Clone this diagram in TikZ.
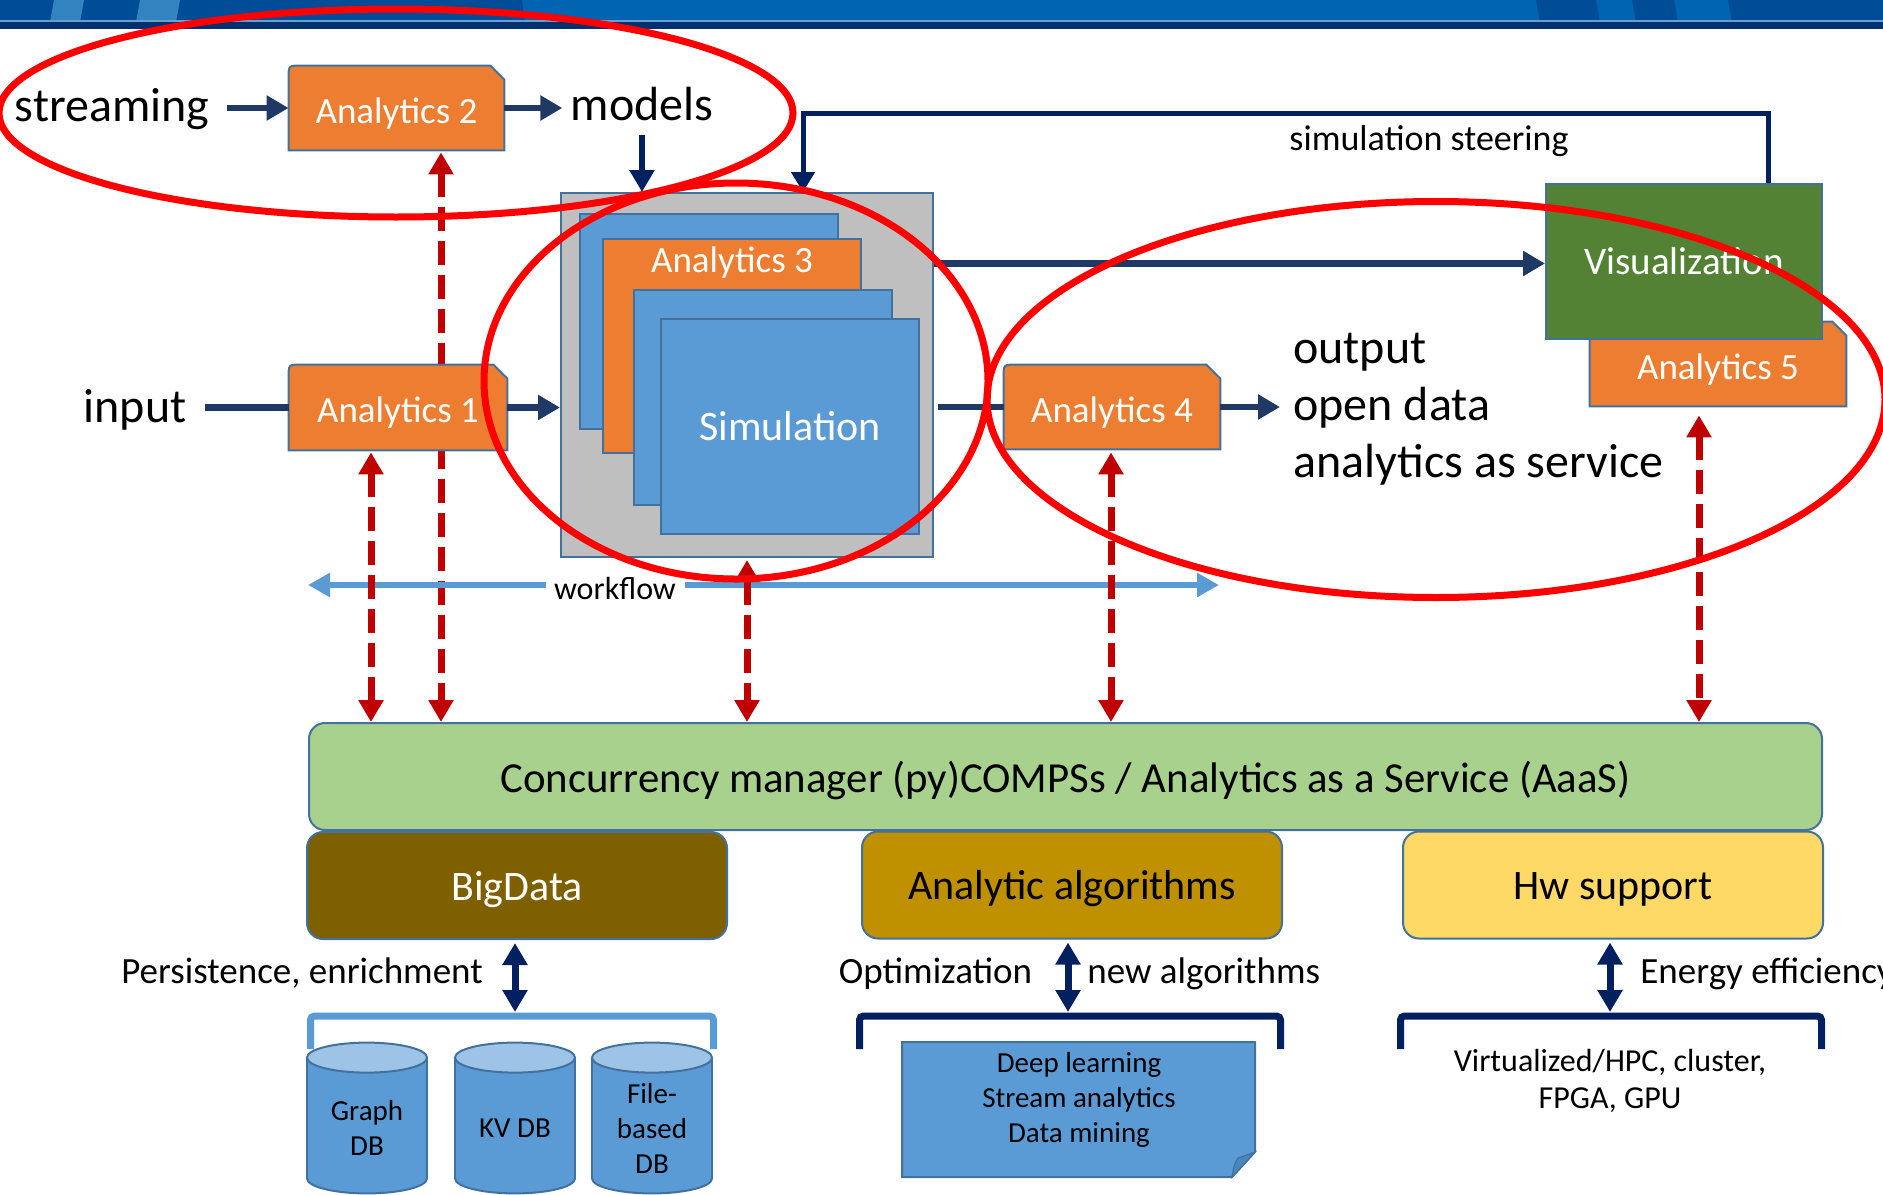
\documentclass[tikz,border=0pt]{standalone}
\usepackage{fontspec}
\setmainfont{Carlito}
\usetikzlibrary{arrows.meta,shapes.geometric,calc}
\definecolor{orA}{HTML}{ED7D31}
\definecolor{bdr}{HTML}{41719C}
\definecolor{simB}{HTML}{5B9BD5}
\definecolor{grayB}{HTML}{BFBFBF}
\definecolor{visG}{HTML}{548235}
\definecolor{concG}{HTML}{A9D18E}
\definecolor{bigD}{HTML}{7F6000}
\definecolor{algY}{HTML}{BF9000}
\definecolor{hwY}{HTML}{FFD966}
\definecolor{navyA}{HTML}{1F3864}
\definecolor{navyB}{HTML}{002060}
\definecolor{redE}{HTML}{FF0000}
\definecolor{redD}{HTML}{C00000}
\definecolor{cylTop}{HTML}{9DC3E6}
\definecolor{bandA}{HTML}{0064B2}
\definecolor{bandB}{HTML}{004C97}
\definecolor{bandC}{HTML}{00306E}
\definecolor{foldB}{HTML}{4A86BF}
\newcommand\fsz[2]{\fontsize{#1}{#2}\selectfont}
\pgfdeclarelayer{back}\pgfdeclarelayer{shapes}\pgfdeclarelayer{front}
\pgfsetlayers{back,shapes,main,front}
\newcommand\snipshape[1]{%
\begin{pgfonlayer}{shapes}
\filldraw[fill=orA, draw=bdr, line width=1pt]
 (#1.south west) -- ([yshift=-6pt]#1.north west) .. controls (#1.north west) .. ([xshift=6pt]#1.north west)
 -- ([xshift=-7pt]#1.north east) -- ([yshift=-7pt]#1.north east) -- (#1.south east) -- cycle;
\end{pgfonlayer}}
\newcommand\cylshape[1]{%
 \fill[simB] ([yshift=-7.5pt]#1.north west) rectangle ([yshift=7.5pt]#1.south east);
 \filldraw[fill=simB, draw=bdr, line width=1pt] ([yshift=7.5pt]#1.south) ellipse [x radius=30pt, y radius=7.5pt];
 \fill[simB] ([yshift=-7.5pt]#1.north west) rectangle ([yshift=7.5pt]#1.south east);
 \draw[bdr, line width=1pt] ([yshift=-7.5pt]#1.north west) -- ([yshift=7.5pt]#1.south west)
   ([yshift=-7.5pt]#1.north east) -- ([yshift=7.5pt]#1.south east);
 \filldraw[fill=cylTop, draw=bdr, line width=1pt] ([yshift=-7.5pt]#1.north) ellipse [x radius=30pt, y radius=7.5pt];}
\tikzset{
 txt/.style={inner sep=0pt, font=\fsz{24}{28}},
 txtm/.style={inner sep=0pt, font=\fsz{18.5}{22}},
 anode/.style={inner sep=0pt, minimum height=42pt, text=white, font=\fsz{18.5}{22}, text height=15pt, text depth=0pt},
 rect/.style={draw=bdr, line width=1pt, inner sep=0pt},
 layer/.style={draw=bdr, line width=1pt, rounded corners=8pt, inner sep=0pt, minimum width=210pt, minimum height=53.5pt, font=\fsz{21}{25}, text height=14.5pt, text depth=0pt},
 navyarr/.style={draw=navyA, line width=3.2pt, -{Triangle[length=11pt,width=12pt]}},
 navyline/.style={draw=navyA, line width=3.2pt},
 steer/.style={draw=navyB, line width=2.5pt, -{Triangle[length=10pt,width=11.5pt]}},
 downarr/.style={draw=navyB, line width=3.2pt, -{Triangle[length=11pt,width=12pt]}},
 wfline/.style={draw=simB, line width=3pt, -{Triangle[length=11pt,width=11.5pt]}},
 redd/.style={draw=redD, line width=3.5pt, dash pattern=on 12pt off 5pt, arrows={Triangle[length=11pt,width=12pt]-Triangle[length=11pt,width=12pt]}},
 dblarr/.style={draw=navyB, line width=3.5pt, arrows={Triangle[length=11pt,width=12pt]-Triangle[length=11pt,width=12pt]}},
 brk/.style={line width=3.5pt, rounded corners=2pt},
 ell/.style={draw=redE, line width=3.5pt},
 cylbox/.style={minimum width=60pt, minimum height=75pt, inner sep=0pt},
 dbtxt/.style={inner sep=0pt, align=center, font=\fsz{14.5}{17.5}}
}
\begin{document}
\begin{tikzpicture}[x=0.5pt, y=-0.5pt]
\useasboundingbox (0,0) rectangle (1883,1194);
% top band
\fill[bandA] (0,0) rectangle (1883,29);
\fill[bandB] (0,0) -- (522,0) -- (525,22) -- (0,22) -- cycle;
\fill[bandA!80!white] (54,0) -- (84,0) -- (80,22) -- (50,22) -- cycle;
\fill[bandA!80!white] (140,0) -- (180,0) -- (176,22) -- (136,22) -- cycle;
\fill[bandB] (1536,0) -- (1596,0) -- (1600,22) -- (1540,22) -- cycle;
\fill[bandB] (1632,0) -- (1674,0) -- (1678,22) -- (1636,22) -- cycle;
\fill[bandB] (1728,0) -- (1883,0) -- (1883,22) -- (1732,22) -- cycle;
\fill[bandC] (0,21) rectangle (1883,29);
\fill[bandA!60!white] (0,20) rectangle (1883,21.5);

% top row
\node[txt, anchor=base] (stream) at (112,121) {streaming};
\node[anode, minimum width=107.5pt] (a2) at (396.5,108) {Analytics 2}; \snipshape{a2}
\node[txt, anchor=base] (models) at (642,120) {models};
\draw[navyarr, shorten <=8.5pt] (stream.east |- a2.west) -- (a2.west);
\draw[navyarr, shorten >=4pt] (a2.east) -- (models.west |- a2.east);

% simulation stack
\node[rect, fill=grayB, minimum width=186pt, minimum height=182pt] (gray) at (747,375) {};
\node[rect, fill=simB, minimum width=129pt, minimum height=107.5pt] (b1) at (709,321.5) {};
\node[rect, fill=orA, minimum width=129pt, minimum height=107pt] (a3) at (732,346) {};
\node[inner sep=0pt, text=white, font=\fsz{18.5}{22}] (a3t) at (732,263) {Analytics 3};
\node[rect, fill=simB, minimum width=129pt, minimum height=107.5pt] (b3) at (763,397.5) {};
\node[rect, fill=simB, minimum width=129pt, minimum height=107.5pt, text=white, font=\fsz{21}{25}] (sim) at (790,426.5) {Simulation};
\draw[downarr, shorten <=7pt] (models.south) -- (models.south |- gray.north);

% visualization & analytics 5
\node[rect, fill=visG, minimum width=138pt, minimum height=77.5pt, text=white, font=\fsz{19.5}{23}] (vis) at (1684,261.5) {Visualization};
\node[anode, minimum width=128pt, text height=15.5pt] (a5) at (1718,364) {Analytics 5}; \snipshape{a5}
\coordinate (stR) at (1768,113);
\coordinate (stL) at (803,113);
\draw[steer] (vis.north -| stR) -- (stR) -- (stL) -- (stL |- gray.north);
\node[inner sep=0pt, anchor=base, font=\fsz{18}{22}] (steerlbl) at (1429,150) {simulation steering};
\draw[navyarr] ([yshift=-1pt]gray.east |- vis.west) -- ([yshift=-1pt]vis.west);

% middle row
\node[txt, anchor=base] (input) at (135,422) {input};
\node[anode, minimum width=109pt, minimum height=42.5pt] (a1) at (398,407.5) {Analytics 1}; \snipshape{a1}
\draw[navyline, shorten <=9pt] (input.east |- a1.west) -- (a1.west);
\draw[navyarr] (a1.east) -- (gray.west |- a1.east);
\node[anode, minimum width=108pt] (a4) at (1112,407) {Analytics 4}; \snipshape{a4}
\draw[navyline] ([xshift=2pt]gray.east |- a4.west) -- (a4.west);
\node[txt, anchor=base west] (out1) at (1293,363) {output};
\node[txt, anchor=base west] (out2) at (1293,420) {open data};
\node[txt, anchor=base west] (out3) at (1293,477) {analytics as service};
\draw[navyarr, shorten >=6.5pt] (a4.east) -- (out2.west |- a4.east);

% workflow
\node[inner sep=0pt, font=\fsz{16}{19}] (wf) at (615,588) {workflow};
\coordinate (wfL) at (308,585);
\coordinate (wfR) at (1219,585);
\draw[wfline, shorten <=4pt] (wf.west |- wfL) -- (wfL);
\draw[wfline, shorten <=4.5pt] (wf.east |- wfR) -- (wfR);

% layers
\node[layer, fill=concG, minimum width=756.5pt, font=\fsz{21.4}{25}, text height=16pt] (conc) at (1065.5,776.5) {Concurrency manager (py)COMPSs / Analytics as a Service (AaaS)};
\node[layer, fill=bigD, text=white] (bd) at (517,885.5) {BigData};
\node[layer, fill=algY] (aa) at (1072,885) {Analytic algorithms};
\node[layer, fill=hwY] (hw) at (1613,885) {Hw support};

% red dashed connectors
\coordinate (xa) at (371,0);
\coordinate (xb) at (441,0);
\coordinate (xd) at (1111,0);
\coordinate (xe) at (1699,0);
\draw[redd, shorten <=1pt] (a1.south -| xa) -- (conc.north -| xa);
\begin{pgfonlayer}{back}
\draw[redd, shorten <=1pt] (a2.south -| xb) -- (conc.north -| xb);
\end{pgfonlayer}
\draw[redd, shorten <=1pt] (gray.south) -- (conc.north -| gray.south);
\draw[redd, shorten <=1.5pt] (a4.south -| xd) -- (conc.north -| xd);
\draw[redd, shorten <=4.5pt] (a5.south -| xe) -- (conc.north -| xe);

% BigData part
\node[txtm, anchor=base] (pers) at (302,983) {Persistence, enrichment};
\coordinate (bdTop) at (515,1012);
\draw[brk, draw=simB] (310.5,1049) -- (310.5,1016) -- (713.5,1016) -- (713.5,1049);
\draw[dblarr, shorten <=1.5pt] (bd.south -| bdTop) -- (bdTop);
\node[cylbox] (gdb) at (367,1118) {}; \cylshape{gdb}
\node[cylbox] (kv) at (515,1118) {}; \cylshape{kv}
\node[cylbox] (fb) at (652,1118) {}; \cylshape{fb}
\node[dbtxt] (gdbt) at ([yshift=-5pt]gdb.center) {Graph\\DB};
\node[dbtxt] (kvt) at ([yshift=-5pt]kv.center) {KV DB};
\node[dbtxt] (fbt) at ([yshift=-5pt]fb.center) {File-\\based\\DB};

% Algorithms part
\node[txtm, anchor=base] (opt) at (935.5,983) {Optimization};
\node[txtm, anchor=base west] (newalg) at (1087,983) {new algorithms};
\coordinate (aaTop) at (1068,1012);
\draw[brk, draw=navyB] (859.5,1049) -- (859.5,1016) -- (1280.5,1016) -- (1280.5,1049);
\draw[dblarr, shorten <=1.5pt] (aa.south -| aaTop) -- (aaTop);
\filldraw[fill=simB, draw=bdr, line width=1pt] (902,1042) -- (1255,1042) -- (1255,1152) -- (1232,1177) -- (902,1177) -- cycle;
\filldraw[fill=foldB, draw=bdr, line width=0.6pt] (1255,1152) -- (1232,1177) .. controls (1234,1165) .. (1238,1158) -- cycle;
\node[inner sep=0pt, align=center, font=\fsz{14.5}{17.5}] (dl) at (1079,1100) {Deep learning\\Stream analytics\\Data mining};

% Hw part
\node[txtm, anchor=base west] (energy) at (1640,983) {Energy efficiency};
\coordinate (hwTop) at (1610,1012);
\draw[brk, draw=navyB] (1400.5,1049) -- (1400.5,1016) -- (1821.5,1016) -- (1821.5,1049);
\draw[dblarr, shorten <=1.5pt] (hw.south -| hwTop) -- (hwTop);
\node[inner sep=0pt, align=center, font=\fsz{16}{18.5}] (hwt) at (1610,1081) {Virtualized/HPC, cluster,\\FPGA, GPU};

% red ellipses
\begin{pgfonlayer}{front}
\draw[ell] (396,113) ellipse [x radius=397, y radius=104];
\draw[ell] (736,381) ellipse [x radius=252, y radius=198];
\draw[ell] (1436,399.5) ellipse [x radius=449, y radius=198];
\end{pgfonlayer}
\end{tikzpicture}
\end{document}
